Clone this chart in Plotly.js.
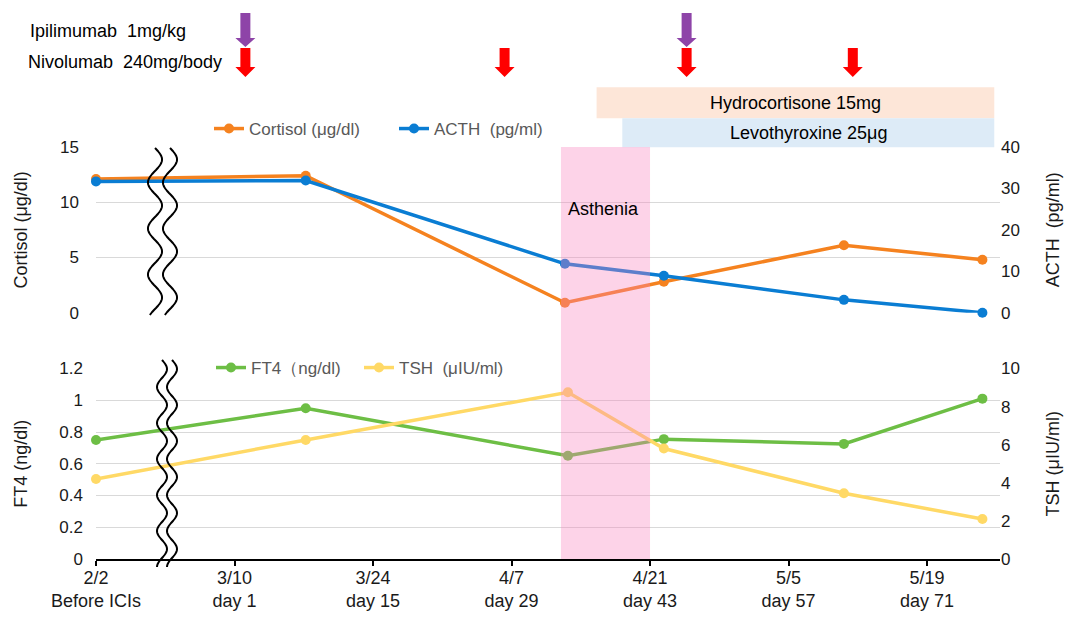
<!DOCTYPE html>
<html><head><meta charset="utf-8">
<script src="https://cdn.plot.ly/plotly-3.0.1.min.js"></script>
<style>body{margin:0;background:#fff}#chart{width:1069px;height:617px}</style>
</head><body><div id="chart"></div>
<script>
// ---- data (x = study day; "Before ICIs" 2/2 shown on a broken axis one step before day 1)
const adrenalDays = [-13, 8.2, 34.4, 44.4, 62.6, 76.6];
const cortisol    = [12.1, 12.4, 0.9, 2.8, 6.1, 4.8];      // µg/dl
const acth        = [31.7, 31.9, 11.8, 8.9, 3.1, 0];        // pg/ml
const thyroidDays = [-13, 8.2, 34.7, 44.4, 62.6, 76.6];
const ft4         = [0.75, 0.95, 0.65, 0.755, 0.725, 1.01]; // ng/dl
const tsh         = [4.2, 6.25, 8.75, 5.8, 3.45, 2.1];      // µIU/ml
const tickDays    = [-13, 1, 15, 29, 43, 57, 71];
const tickDates   = ['2/2', '3/10', '3/24', '4/7', '4/21', '5/5', '5/19'];
const tickDayText = ['Before ICIs', 'day 1', 'day 15', 'day 29', 'day 43', 'day 57', 'day 71'];
const nivolumabDays  = [2.1, 28.3, 46.7, 63.5];
const ipilimumabDays = [2.1, 46.7];
const astheniaPeriod = [34, 43];
const hydrocortisonePeriod = [37.6, 77.8];
const levothyroxinePeriod  = [40.2, 77.8];

// ---- layout helpers (page pixels -> paper)
const W = 1069, H = 617, L = 96, R = 1000, T = 147, B = 559;
const py = y => (B - y) / (B - T);
const FONT = 'Arial, "Liberation Sans", sans-serif';
const xRange = [-13, -13 + (R - L) / 9.893];

const traces = [
  {x: adrenalDays, y: cortisol, xaxis: 'x2', yaxis: 'y', name: 'Cortisol (μg/dl)', legend: 'legend',
   mode: 'lines+markers', line: {color: '#F5821F', width: 3.5}, marker: {size: 10, color: '#F5821F'}, cliponaxis: false},
  {x: adrenalDays, y: acth, xaxis: 'x2', yaxis: 'y2', name: 'ACTH\u00a0 (pg/ml)', legend: 'legend',
   mode: 'lines+markers', line: {color: '#0A7DD3', width: 3.5}, marker: {size: 10, color: '#0A7DD3'}, cliponaxis: false},
  {x: thyroidDays, y: ft4, xaxis: 'x', yaxis: 'y3', name: 'FT4（ng/dl)', legend: 'legend2',
   mode: 'lines+markers', line: {color: '#6DBE45', width: 3.5}, marker: {size: 10, color: '#6DBE45'}, cliponaxis: false},
  {x: thyroidDays, y: tsh, xaxis: 'x', yaxis: 'y4', name: 'TSH\u00a0 (μIU/ml)', legend: 'legend2',
   mode: 'lines+markers', line: {color: '#FFD966', width: 3.5}, marker: {size: 10, color: '#FFD966'}, cliponaxis: false}
];

function wave(cx, y0, y1, amp, period) {
  let d = '';
  for (let y = y0, i = 0; y <= y1 + 0.01; y += 1, i++) {
    const x = cx + amp * Math.sin(2 * Math.PI * (y - y0) / period);
    d += (i ? 'L' : 'M') + (x - L).toFixed(1) + ',' + (B - y).toFixed(1);
  }
  return d;
}
function arrowPath(len, head, shaftHalf, headHalf) {
  return `M0,0 L${-headHalf},${head} L${-shaftHalf},${head} L${-shaftHalf},${len} L${shaftHalf},${len} L${shaftHalf},${head} L${headHalf},${head} Z`;
}

const shapes = [];
// treatment bars
shapes.push({type: 'rect', xref: 'x', yref: 'paper', x0: hydrocortisonePeriod[0], x1: hydrocortisonePeriod[1],
  y0: py(118.3), y1: py(87.3), fillcolor: '#FDE6D8', line: {width: 0}});
shapes.push({type: 'rect', xref: 'x', yref: 'paper', x0: levothyroxinePeriod[0], x1: levothyroxinePeriod[1],
  y0: py(147.3), y1: py(118.3), fillcolor: '#DDEBF7', line: {width: 0}});
// asthenia band
shapes.push({type: 'rect', xref: 'x', yref: 'paper', x0: astheniaPeriod[0], x1: astheniaPeriod[1],
  y0: 0, y1: 1, fillcolor: 'rgba(248,130,190,0.35)', line: {width: 0}, layer: 'above'});
// dose arrows
nivolumabDays.forEach(d => shapes.push({type: 'path', xref: 'x', yref: 'paper', xsizemode: 'pixel', ysizemode: 'pixel',
  xanchor: d, yanchor: py(77), path: arrowPath(29, 10, 5, 10), fillcolor: '#FF0000', line: {width: 0}}));
ipilimumabDays.forEach(d => shapes.push({type: 'path', xref: 'x', yref: 'paper', xsizemode: 'pixel', ysizemode: 'pixel',
  xanchor: d, yanchor: py(47), path: arrowPath(34, 9, 5, 10), fillcolor: '#8E44A8', line: {width: 0}}));
// axis break marks
[[155, 148, 315, 7, 46], [170, 148, 315, 7, 46], [162, 360, 567, 5, 36], [172, 360, 567, 5, 36]].forEach(w =>
  shapes.push({type: 'path', xref: 'paper', yref: 'paper', xsizemode: 'pixel', ysizemode: 'pixel', xanchor: 0, yanchor: 0,
    path: wave(...w), line: {color: '#000', width: 2}, layer: 'above'}));

const txt = (size, color) => ({family: FONT, size: size, color: color || '#000'});
const ann = (text, xref, x, yPix, xanchor) => ({text: text, xref: xref, yref: 'paper', x: x, y: py(yPix),
  xanchor: xanchor || 'center', yanchor: 'middle', showarrow: false, font: txt(18)});
const annotations = [
  ann('Asthenia', 'x', 38.3, 209),
  ann('Hydrocortisone 15mg', 'x', 57.7, 103),
  ann('Levothyroxine 25μg', 'x', 59.0, 133),
  ann('Ipilimumab\u00a0 1mg/kg', 'paper', (28 - L) / (R - L), 31, 'left'),
  ann('Nivolumab\u00a0 240mg/body', 'paper', (26 - L) / (R - L), 62, 'left')
];

const yCommon = {showline: false, zeroline: false, ticks: '', tickfont: txt(17, '#1a1a1a'),
  title: {font: txt(18, '#1a1a1a'), standoff: 27}};

const layout = {
  width: W, height: H, paper_bgcolor: '#fff', plot_bgcolor: '#fff',
  margin: {l: L, r: W - R, t: T, b: H - B},
  font: {family: FONT},
  showlegend: true,
  xaxis: {anchor: 'y3', domain: [0, 1], range: xRange, tickvals: tickDays,
    ticktext: tickDates.map((d, i) => d + '<br>' + tickDayText[i]),
    showgrid: false, zeroline: false, showline: true, linecolor: '#000', linewidth: 2,
    ticks: 'outside', ticklen: 5, tickwidth: 2, tickcolor: '#000', ticklabelstandoff: -4,
    tickfont: txt(18, '#1a1a1a')},
  xaxis2: {anchor: 'y', domain: [0, 1], range: xRange, visible: false},
  yaxis: Object.assign({}, yCommon, {domain: [py(312.7), 1], range: [0, 15], dtick: 5, gridcolor: '#D9D9D9',
    ticklabelstandoff: 16, title: Object.assign({}, yCommon.title, {text: 'Cortisol (μg/dl)'})}),
  yaxis2: Object.assign({}, yCommon, {overlaying: 'y', side: 'right', anchor: 'x2', range: [0, 40], dtick: 10, showgrid: false,
    title: Object.assign({}, yCommon.title, {text: 'ACTH\u00a0 (pg/ml)'})}),
  yaxis3: Object.assign({}, yCommon, {domain: [0, py(368.5)], range: [0, 1.2], dtick: 0.2, gridcolor: '#D9D9D9',
    ticklabelstandoff: 12, title: Object.assign({}, yCommon.title, {text: 'FT4 (ng/dl)'})}),
  yaxis4: Object.assign({}, yCommon, {overlaying: 'y3', side: 'right', anchor: 'x', range: [0, 10], dtick: 2, showgrid: false,
    title: Object.assign({}, yCommon.title, {text: 'TSH (μIU/ml)'})}),
  legend: {orientation: 'h', x: (209 - L) / (R - L), y: py(129), xanchor: 'left', yanchor: 'middle',
    bgcolor: 'rgba(0,0,0,0)', font: txt(17, '#595959'), entrywidth: 140, itemwidth: 30},
  legend2: {orientation: 'h', x: (211 - L) / (R - L), y: py(368), xanchor: 'left', yanchor: 'middle',
    bgcolor: 'rgba(0,0,0,0)', font: txt(17, '#595959'), entrywidth: 103, itemwidth: 30},
  shapes: shapes,
  annotations: annotations
};

Plotly.newPlot('chart', traces, layout, {displayModeBar: false, staticPlot: true});
</script>
</body></html>
